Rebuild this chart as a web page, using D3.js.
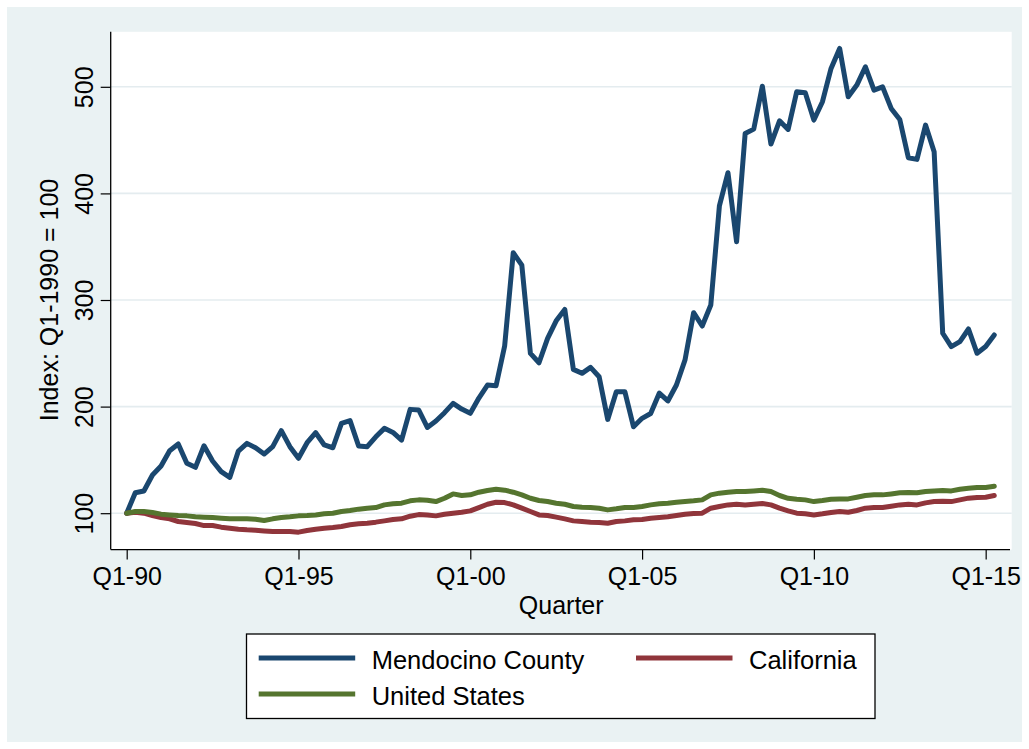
<!DOCTYPE html>
<html>
<head>
<meta charset="utf-8">
<script src="https://cdn.jsdelivr.net/npm/d3@7"></script>
<style>
  html, body { margin: 0; padding: 0; background: #ffffff; }
  svg { display: block; }
  text { font-family: "Liberation Sans", Arial, Helvetica, sans-serif; fill: #000; }
</style>
</head>
<body>
<svg id="chart" width="1029" height="749"></svg>
<script>
// ---- Data (quarterly index, Q1-1990 = 100) ----
const startYear = 1990;
const nQuarters = 102; // Q1-1990 .. Q2-2015
const quarters = [];
for (let k = 0; k < nQuarters; k++) quarters.push(k);

const mendocino = [
  100, 119.2, 120.8, 135.8, 144.3, 158.6, 164.9, 146.8, 143, 163.3,
  149, 139, 133.6, 158.3, 165.5, 161.4, 155.5, 162.4, 177.4, 162.4,
  151.5, 166.1, 175.5, 164, 161.4, 184.3, 186.8, 163, 162.4, 171.7,
  179.6, 175.8, 168.6, 197.4, 196.8, 180.5, 186.5, 194.3, 203, 197.7,
  193.7, 208, 220.2, 219.6, 256.8, 344.3, 332.7, 249.9, 241.1, 264,
  280.5, 291.2, 234.9, 231.2, 236.8, 228, 188, 213.9, 213.9, 181.1,
  189, 193.5, 212.6, 205.3, 220.3, 243.8, 288.1, 275.6, 295.3, 388.2,
  419.4, 354.7, 456.3, 460.3, 500.6, 446.3, 468.1, 460, 495.3, 494.4,
  468.8, 486, 517.2, 536, 490.6, 501.6, 518.8, 496.9, 500, 479.7,
  469.4, 433.4, 431.9, 464.1, 439.1, 268.8, 256.3, 260.9, 272.8, 250,
  256.3, 267.2
];
const california = [
  100, 100.9, 100, 97.8, 95.9, 94.7, 92.2, 91.3, 90.3, 88.4,
  88.4, 86.9, 85.9, 85, 84.4, 84.1, 83.4, 82.8, 82.8, 82.8,
  82.2, 83.8, 85, 85.9, 86.6, 87.5, 89.1, 90, 90.6, 91.6,
  92.8, 94.1, 94.7, 97.2, 98.7, 98.4, 97.5, 99, 100, 100.9,
  102.2, 105.3, 108.4, 110.3, 110, 107.8, 104.7, 101.6, 98.4, 97.8,
  96.3, 94.7, 92.8, 92.2, 91.6, 91.3, 90.6, 92.2, 92.8, 93.8,
  94.1, 95.3, 95.9, 96.6, 97.8, 99, 99.7, 100, 104.7, 106.3,
  107.8, 108.4, 107.8, 108.4, 109.1, 107.8, 104.7, 102.2, 100, 99.4,
  98.4, 99.4, 100.6, 101.6, 100.9, 102.5, 104.7, 105.3, 105.3, 106.6,
  107.8, 108.4, 107.8, 109.7, 110.9, 111.3, 110.9, 112.5, 114.1, 114.7,
  115, 116.6
];
const unitedStates = [
  100, 101.6, 101.6, 100.6, 99.1, 98.4, 97.8, 97.5, 96.6, 96.3,
  95.9, 95.3, 94.7, 94.7, 94.7, 94.4, 93.1, 94.7, 95.9, 96.6,
  97.5, 97.8, 98.4, 99.4, 100, 101.6, 102.5, 103.8, 104.7, 105.3,
  107.8, 108.8, 109.4, 111.6, 112.5, 112.2, 110.9, 114, 118.1, 116.6,
  117.2, 119.7, 121.3, 122.5, 121.6, 119.7, 117.2, 114, 111.9, 110.9,
  109.4, 108.4, 106.3, 105.6, 105.3, 104.7, 103.1, 104.1, 105.3, 105.3,
  106.3, 107.8, 108.8, 109.4, 110.3, 110.9, 111.6, 112.5, 117.2, 118.8,
  119.7, 120.3, 120.3, 120.9, 121.6, 120.3, 116.6, 114, 113.1, 112.5,
  110.9, 111.9, 113.1, 113.4, 113.4, 115, 116.6, 117.2, 117.2, 118.1,
  119.1, 119.4, 119.1, 120.3, 120.9, 121.3, 120.9, 122.5, 123.4, 124.1,
  124.1, 125.3
];

const xTickValues = [0, 20, 40, 60, 80, 100];
const xTickLabels = ["Q1-90", "Q1-95", "Q1-00", "Q1-05", "Q1-10", "Q1-15"];
const yTickValues = [100, 200, 300, 400, 500];
const seriesNames = ["Mendocino County", "California", "United States"];
const seriesColors = ["#1A476F", "#90353B", "#55752F"];

// ---- Layout ----
const W = 1029, H = 749;
const plot = { left: 110.7, right: 1011.7, top: 31.8, bottom: 549.6 };
const svg = d3.select("#chart");

// background
svg.append("rect").attr("x", 0).attr("y", 0).attr("width", W).attr("height", H).attr("fill", "#ffffff");
svg.append("rect").attr("x", 7).attr("y", 7).attr("width", W - 14).attr("height", H - 14).attr("fill", "#EAF2F3");
svg.append("rect")
  .attr("x", plot.left).attr("y", plot.top)
  .attr("width", plot.right - plot.left).attr("height", plot.bottom - plot.top)
  .attr("fill", "#ffffff");

const x = d3.scaleLinear().domain([-1.863, 103.03]).range([plot.left, plot.right]);
const y = d3.scaleLinear().domain([65.85, 551.6]).range([plot.bottom, plot.top]);

// gridlines
svg.append("g").selectAll("line").data(yTickValues).join("line")
  .attr("x1", plot.left).attr("x2", plot.right)
  .attr("y1", d => y(d)).attr("y2", d => y(d))
  .attr("stroke", "#E4ECEF").attr("stroke-width", 1.6);

// lines
const lineGen = d3.line().x((d, i) => x(quarters[i])).y(d => y(d));
const allSeries = [mendocino, california, unitedStates];
svg.append("g").selectAll("path").data(allSeries).join("path")
  .attr("d", d => lineGen(d))
  .attr("fill", "none")
  .attr("stroke", (d, i) => seriesColors[i])
  .attr("stroke-width", 5)
  .attr("stroke-linejoin", "round")
  .attr("stroke-linecap", "round");

// axes
const xAxis = d3.axisBottom(x).tickValues(xTickValues)
  .tickFormat((d, i) => xTickLabels[i]).tickSize(10).tickSizeOuter(0);
const gx = svg.append("g").attr("transform", `translate(0,${plot.bottom})`).call(xAxis);
gx.select(".domain").attr("stroke", "#000").attr("stroke-width", 1.3)
  .attr("d", `M${plot.left},0H${plot.right - 1.7}`);
gx.selectAll(".tick line").attr("stroke", "#000").attr("stroke-width", 1.2);
gx.selectAll(".tick text").attr("y", 35).attr("dy", 0)
  .style("font-size", "25px").style("font-family", "'Liberation Sans', Arial, sans-serif").attr("fill", "#000");

const yAxis = d3.axisLeft(y).tickValues(yTickValues).tickSize(10).tickSizeOuter(0).tickFormat(d3.format("d"));
const gy = svg.append("g").attr("transform", `translate(${plot.left},0)`).call(yAxis);
gy.select(".domain").attr("stroke", "#000").attr("stroke-width", 1.3)
  .attr("d", `M0,${plot.top}V${plot.bottom}`);
gy.selectAll(".tick line").attr("stroke", "#000").attr("stroke-width", 1.2);
gy.selectAll(".tick text")
  .attr("x", null).attr("dy", null)
  .attr("text-anchor", "middle")
  .attr("transform", "translate(-18,0) rotate(-90)")
  .attr("y", 0)
  .style("font-size", "25px").style("font-family", "'Liberation Sans', Arial, sans-serif").attr("fill", "#000");

// axis titles
svg.append("text").attr("x", (x(-1.863) + x(103.03)) / 2 + 0).attr("y", 614)
  .attr("text-anchor", "middle").style("font-size", "25px").text("Quarter");
svg.append("text")
  .attr("transform", `translate(58,${300}) rotate(-90)`)
  .attr("text-anchor", "middle").style("font-size", "25px").text("Index: Q1-1990 = 100");

// legend
const lg = svg.append("g");
lg.append("rect").attr("x", 246.5).attr("y", 634).attr("width", 628.5).attr("height", 84.5)
  .attr("fill", "#ffffff").attr("stroke", "#000").attr("stroke-width", 1.3);
const legendItems = [
  { name: seriesNames[0], color: seriesColors[0], lx: 258.7, ly: 658 },
  { name: seriesNames[1], color: seriesColors[1], lx: 636, ly: 658 },
  { name: seriesNames[2], color: seriesColors[2], lx: 258.7, ly: 694 }
];
legendItems.forEach(it => {
  lg.append("line").attr("x1", it.lx).attr("x2", it.lx + 96.5)
    .attr("y1", it.ly).attr("y2", it.ly)
    .attr("stroke", it.color).attr("stroke-width", 5);
  lg.append("text").attr("x", it.lx + 113).attr("y", it.ly + 10.5)
    .style("font-size", "25.5px").text(it.name);
});
</script>
</body>
</html>
